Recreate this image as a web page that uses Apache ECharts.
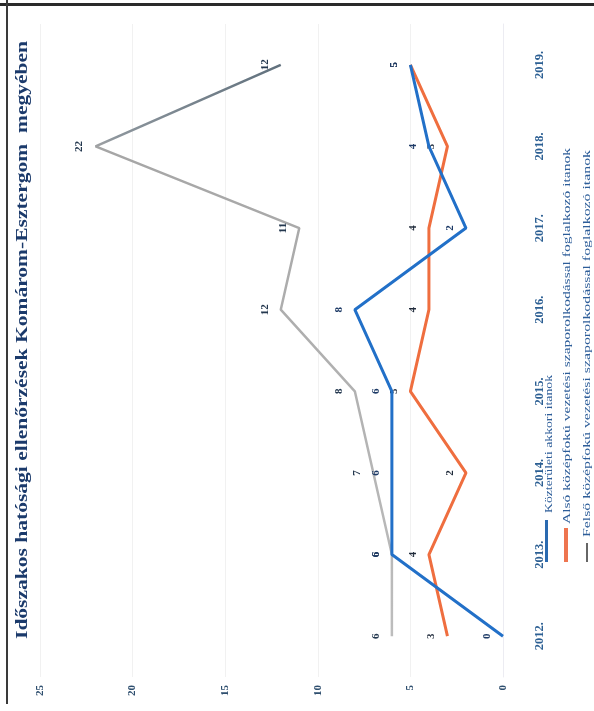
<!DOCTYPE html>
<html>
<head>
<meta charset="utf-8">
<script src="https://cdn.jsdelivr.net/npm/echarts@6/dist/echarts.min.js"></script>
<style>html,body{margin:0;padding:0;background:#fff}#c{width:594px;height:711px}</style>
</head>
<body>
<div id="c"></div>
<script>
const years = ['2012.', '2013.', '2014.', '2015.', '2016.', '2017.', '2018.', '2019.'];
const seriesNames = [
  'Közterületi akkori itanok',
  'Alsó középfokú vezetési szaporolkodással foglalkozó itanok',
  'Felső középfokú vezetési szaporolkodással foglalkozó itanok'
];
const blueValues = [0, 6, 6, 6, 8, 2, 4, 5];
const orangeValues = [3, 4, 2, 5, 4, 4, 3, 5];
const grayValues = [6, 6, 7, 8, 12, 11, 22, 12];
const valueTicks = [0, 5, 10, 15, 20, 25];
const titleText = 'Időszakos hatósági ellenőrzések Komárom-Esztergom  megyében';

const serif = '"Liberation Serif", "DejaVu Serif", serif';
function measure(text, font) {
  const cv = document.createElement('canvas').getContext('2d');
  cv.font = font;
  return cv.measureText(text).width;
}
function fitScale(text, font, target) {
  return target / measure(text, font);
}

const chart = echarts.init(document.getElementById('c'), null, {renderer: 'canvas'});

function labelOf(color) {
  return {
    show: true, position: 'left', distance: 16, rotate: 90,
    align: 'center', verticalAlign: 'middle',
    fontFamily: serif, fontWeight: 'bold', fontSize: 11, color: color
  };
}

const titleFont = 'bold 16px ' + serif;
const legFont = '10.5px ' + serif;

function legendText(text, x, y, target) {
  return {
    type: 'text', x: x, y: y, rotation: Math.PI / 2,
    scaleX: fitScale(text, legFont, target), scaleY: 1,
    style: {text: text, font: legFont, fill: '#2d5d99',
      textAlign: 'left', textVerticalAlign: 'middle', align: 'left', verticalAlign: 'middle'}
  };
}

chart.setOption({
  animation: false,
  backgroundColor: '#ffffff',
  grid: {left: 40, right: 91, top: 24, bottom: 34},
  xAxis: {
    type: 'value', inverse: true, min: valueTicks[0], max: valueTicks[valueTicks.length - 1], interval: 5,
    axisLine: {show: false}, axisTick: {show: false},
    axisLabel: {rotate: 90, margin: 8, fontFamily: serif, fontWeight: 'bold', fontSize: 11, color: '#2f4f6f'},
    splitLine: {show: true, lineStyle: {color: '#f1f1f1', width: 1}}
  },
  yAxis: {
    type: 'category', position: 'right', data: years,
    axisLine: {show: true, lineStyle: {color: '#ececf2'}}, axisTick: {show: false},
    axisLabel: {rotate: 90, margin: 30, fontFamily: serif, fontWeight: 'bold', fontSize: 12.5, color: '#2c5f93'}
  },
  series: [
    {name: seriesNames[0], type: 'line', data: blueValues, showSymbol: true, symbol: 'circle', symbolSize: 0.1, z: 4,
      itemStyle: {color: '#2270c8'}, lineStyle: {color: '#2270c8', width: 3}, label: labelOf('#1d3a66')},
    {name: seriesNames[1], type: 'line', data: orangeValues, showSymbol: true, symbol: 'circle', symbolSize: 0.1, z: 3,
      itemStyle: {color: '#ef6e3f'}, lineStyle: {color: '#ef6e3f', width: 3}, label: labelOf('#1f2a3a')},
    {name: seriesNames[2], type: 'line', data: grayValues, showSymbol: true, symbol: 'circle', symbolSize: 0.1, z: 2,
      itemStyle: {color: '#a6a6a6'},
      lineStyle: {width: 2.5, color: {type: 'linear', x: 0, y: 0, x2: 0, y2: 1, colorStops: [
        {offset: 0, color: '#5f6f7c'}, {offset: 0.13, color: '#8c959c'},
        {offset: 0.15, color: '#a6a6a6'}, {offset: 1, color: '#bdbdbd'}]}},
      label: labelOf('#24384f')}
  ],
  graphic: [
    {type: 'rect', shape: {x: 0, y: 3, width: 594, height: 3}, style: {fill: '#2a2a2a'}},
    {type: 'rect', shape: {x: 6, y: 0, width: 2, height: 704}, style: {fill: '#3a3a3a'}},
    {type: 'text', x: 23, y: 340, rotation: Math.PI / 2,
      scaleX: fitScale(titleText, titleFont, 598), scaleY: 1,
      style: {text: titleText, font: titleFont, fill: '#1b3a6b',
        textAlign: 'center', textVerticalAlign: 'middle', align: 'center', verticalAlign: 'middle'}},
    {type: 'rect', shape: {x: 545, y: 520, width: 3, height: 42}, style: {fill: '#2a6ab0'}},
    legendText(seriesNames[0], 549, 513, 138),
    {type: 'rect', shape: {x: 564, y: 528, width: 4, height: 34}, style: {fill: '#ee7550'}},
    legendText(seriesNames[1], 567, 524, 376),
    {type: 'rect', shape: {x: 586, y: 543, width: 2, height: 19}, style: {fill: '#666666'}},
    legendText(seriesNames[2], 587, 537, 387)
  ]
});
</script>
</body>
</html>
